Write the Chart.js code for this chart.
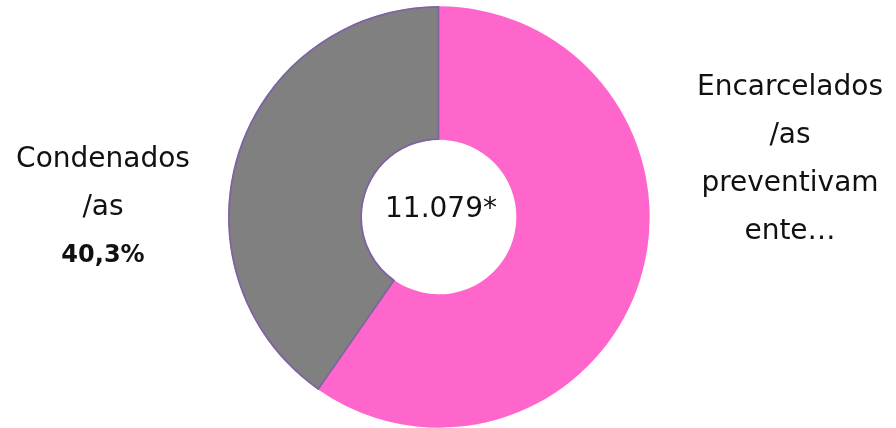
<!DOCTYPE html>
<html>
<head>
<meta charset="utf-8">
<script src="https://cdn.jsdelivr.net/npm/chart.js@4"></script>
<style>
  html, body { margin: 0; padding: 0; background: #fff; }
  #wrap { width: 896px; height: 428px; position: relative; }
</style>
</head>
<body>
<div id="wrap"><canvas id="myChart"></canvas></div>
<script>
const categories = ["Encarcelados/as preventivamente", "Condenados/as"];
const values = [59.7, 40.3];
const totalLabel = "11.079*";
// the lines as the labels show them (the first one is cut off)
const labelLines = [
  ["Encarcelados", "/as", "preventivam", "ente…"],
  ["Condenados", "/as"],
];
const showPct = [false, true];

const pink = "#ff66cc";
const grey = "#808080";

// draws the side labels and the number in the hole
const labelPlugin = {
  id: "sideLabels",
  afterDraw(chart) {
    const ctx = chart.ctx;
    const arc = chart.getDatasetMeta(0).data[0];
    ctx.save();
    ctx.fillStyle = "#111";
    ctx.textAlign = "center";
    ctx.textBaseline = "middle";
    ctx.font = "28px 'DejaVu Sans'";
    ctx.fillText(totalLabel, arc.x + 2, arc.y - 7);

    const spots = [
      { x: 790, y: 88 },
      { x: 103, y: 160 },
    ];
    labelLines.forEach((lines, i) => {
      let y = spots[i].y;
      ctx.font = "28px 'DejaVu Sans'";
      lines.forEach((l) => {
        ctx.fillText(l, spots[i].x, y);
        y += 48;
      });
      if (showPct[i]) {
        ctx.font = "bold 24px 'DejaVu Sans'";
        ctx.fillText(values[i].toFixed(1).replace(".", ",") + "%", spots[i].x, y);
      }
    });
    ctx.restore();
  },
};

new Chart(document.getElementById("myChart"), {
  type: "doughnut",
  data: {
    labels: categories,
    datasets: [
      {
        data: values,
        backgroundColor: [pink, grey],
        borderColor: ["rgba(0,0,0,0)", "#8064a2"],
        borderWidth: [0, 1.5],
        borderAlign: "inner",
      },
    ],
  },
  options: {
    responsive: true,
    maintainAspectRatio: false,
    animation: false,
    cutout: "36.5%",
    layout: { padding: { top: 6, bottom: 0, left: 0, right: 18 } },
    plugins: {
      legend: { display: false },
      tooltip: { enabled: false },
    },
  },
  plugins: [labelPlugin],
});
</script>
</body>
</html>
